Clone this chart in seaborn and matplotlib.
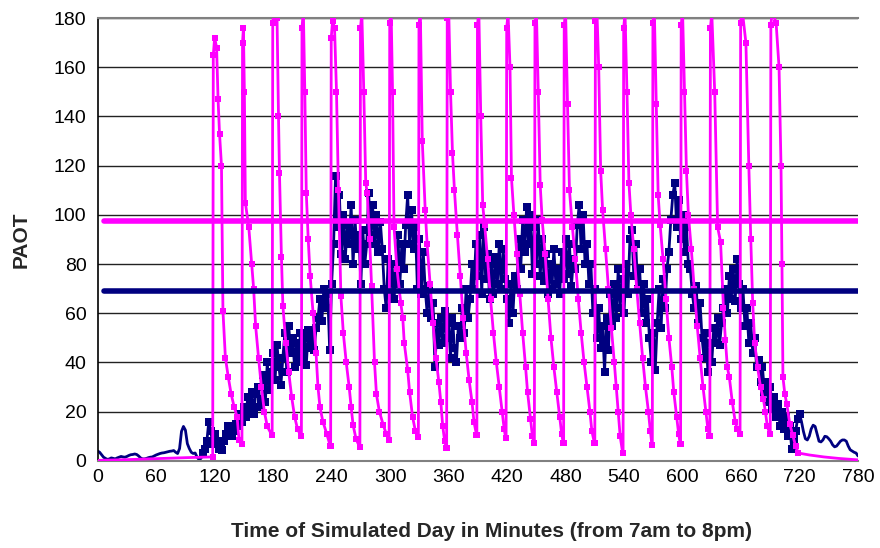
import numpy as np
import pandas as pd
import seaborn as sns
import matplotlib
matplotlib.use("Agg")
import matplotlib.pyplot as plt

# ---------------- data ----------------
navy_t = list(range(0, 781, 2))
navy_v = [
    4, 3.5, 2.5, 1.5, 1, 0.6, 0.8, 1.2, 1, 0.8, 1.2, 1.5, 1.8, 1.6, 1.5, 1.8, 2.2, 2.5, 2.6, 2.8,
    2.6, 2, 1.2, 0.8, 0.8, 1, 1.3, 1.5, 1.6, 2, 2.4, 2.7, 3, 3.2, 3.3, 3.5, 3.7, 3.9, 4, 4.2,
    3.5, 3, 5, 12, 14, 12.5, 7, 5, 3.5, 3, 3.2,
    1.5, 0.5, 1, 3, 5, 8, 16, 12, 7, 11, 8, 5, 6, 4.5, 8, 11, 14, 13, 10, 12, 15, 14, 19, 16, 22,
    18, 26, 21, 28, 19, 27, 30, 22, 25, 35, 24, 40, 29, 36, 44, 33, 47, 38, 31, 42, 52, 36, 55, 44, 50,
    38, 48, 40, 52, 42, 50, 39, 53, 46, 52, 45, 54, 58, 66, 57, 70, 62, 68, 45, 72, 88, 116, 95, 108, 84,
    100, 82, 96, 88, 104, 80, 98, 86, 92, 72, 94, 80, 88, 109, 92, 104, 88, 100, 85, 97, 86, 70, 62, 82, 68,
    80, 66, 75, 92, 72, 88, 78, 96, 108, 88, 102, 86, 95, 70, 90, 68, 85, 70, 60, 71, 58, 64, 38, 56, 47,
    58, 48, 61, 50, 56, 42, 58, 46, 40, 55, 50, 62, 52, 70, 58, 66, 80, 70, 88, 75, 92, 68, 95, 74, 84,
    66, 80, 68, 83, 72, 88, 70, 86, 74, 66, 56, 72, 60, 75, 70, 90, 78, 98, 85, 103, 88, 100, 76, 95, 80,
    98, 75, 90, 73, 84, 68, 80, 70, 86, 72, 78, 68, 85, 74, 90, 76, 88, 71, 82, 78, 96, 104, 86, 100, 80,
    88, 72, 80, 60, 70, 50, 62, 46, 55, 36, 58, 45, 68, 55, 72, 58, 78, 62, 74, 60, 80, 68, 90, 94, 75,
    88, 70, 78, 60, 72, 56, 66, 50, 40, 52, 37, 56, 70, 54, 74, 62, 78, 85, 98, 108, 113, 95, 106, 90, 100,
    85, 95, 80, 78, 68, 62, 71, 56, 64, 50, 42, 52, 36, 48, 40, 54, 48, 58, 47, 56, 62, 70, 60, 75, 66,
    78, 65, 82, 72, 62, 70, 55, 62, 48, 56, 44, 50, 38, 41, 32, 38, 28, 32, 24, 30, 21, 26, 18, 23, 14,
    20, 13, 18, 10, 14, 5, 9, 12, 17, 19, 16, 12, 9, 8.5, 10, 13, 14.5, 14, 11, 8,
    7.7, 8.5, 10, 9.8, 9, 8, 6.5, 5.7, 6, 7, 8, 8.5, 8.5, 8, 6, 4.5, 4, 3.5, 3.2, 2,
]

magenta_base_t = [0, 30, 60, 90, 117.6]
magenta_base_v = [0.2, 0.5, 0.9, 1.3, 1.6]

magenta_t = [
    118, 118.6, 120, 122, 123.5, 125, 127, 128.5, 131, 134, 137, 140, 143, 145, 147.6,
    148, 148.6, 149.5, 150.5, 151.5, 155, 158, 160, 162, 165, 168, 171, 174, 178.6,
    179, 179.6, 181, 184, 185.5, 186.5, 188.5, 190, 193, 196, 199, 202, 205, 208.6,
    209, 209.6, 211, 212.5, 214, 216, 218, 221, 224, 226, 228, 231, 235, 238.6,
    239, 239.6, 241, 243, 245, 247, 249.5, 252, 255, 258, 260, 262, 265, 268.6,
    269, 269.6, 271, 273, 275, 276.5, 279, 281, 284, 286, 289, 293, 296, 298.6,
    299, 299.6, 301, 302.5, 304, 307, 311, 313, 314.5, 318, 320, 323, 326, 328.6,
    329, 329.6, 331, 333, 336, 338, 341, 344, 347, 350, 352, 354, 356, 357.6,
    358, 358.6, 360, 362, 364, 366, 369, 372, 375, 378, 381, 384, 386, 388.6,
    389, 389.6, 391, 393, 395, 397, 400, 403, 406, 409, 412, 415, 417, 418.6,
    419, 419.6, 421, 423, 424.5, 427, 430, 433, 436, 439, 441, 444, 446, 447.6,
    448, 448.6, 450, 452, 454, 456, 459, 462, 465, 468, 471, 474, 476, 477.6,
    478, 478.6, 480, 482, 484, 487, 490, 493, 496, 499, 502, 505, 507, 509.6,
    510, 510.6, 512, 514, 516, 518, 521, 524, 527, 530, 532, 534, 536, 538.6,
    539, 539.6, 541, 543, 545, 547, 550, 553, 556, 559, 562, 565, 567, 568.6,
    569, 569.6, 571, 573, 575, 577, 580, 583, 586, 589, 591, 594, 596, 597.6,
    598, 598.6, 600, 602, 604, 606, 609, 612, 615, 618, 621, 624, 626, 627.6,
    628, 628.6, 630, 633, 636, 639, 642, 644, 646, 648, 651, 654, 656, 658.6,
    659, 659.6, 661, 665, 668, 670, 672, 674, 677, 680, 683, 685, 687, 689.6,
    690, 690.6, 692, 696, 699, 701, 702, 703, 705, 707, 710, 713, 716, 718.6,
]
magenta_v = [
    1.6, 165, 172, 168, 147, 133, 120, 61, 42, 34, 27, 22, 18, 8.5, 7,
    7, 170, 176, 150, 105, 95, 80, 70, 55, 42, 30, 20, 14, 10.5,
    10.5, 178, 184, 180, 140, 117, 83, 63, 48, 36, 26, 18, 13, 10,
    10, 176, 183, 150, 109, 90, 75, 60, 44, 30, 22, 16, 11, 6,
    6, 172, 179, 176, 150, 110, 67, 52, 40, 30, 22, 14.6, 9, 5.7,
    5.7, 176, 182, 150, 113, 109, 90, 71, 40, 27, 20, 14.6, 11, 8.5,
    8.5, 178, 184, 150, 95, 78, 64, 58, 48, 37, 28, 18, 12, 9.8,
    9.8, 177, 183, 130, 102, 88, 72, 56, 42, 32, 24, 14, 8, 5.3,
    5.3, 180, 185, 150, 125, 110, 92, 75, 58, 44, 33, 24, 16, 10.6,
    10.6, 177, 183, 140, 104, 96, 82, 66, 52, 40, 30, 20, 13, 9.3,
    9.3, 176, 182, 160, 115, 100, 84, 68, 52, 38, 28, 17, 10, 7.3,
    7.3, 178, 184, 150, 112, 98, 84, 66, 50, 38, 28, 18, 11, 7.3,
    7.3, 177, 183, 145, 110, 95, 82, 66, 52, 40, 30, 20, 12, 7.3,
    7.3, 179, 185, 160, 118, 102, 86, 70, 54, 40, 30, 20, 10, 3.2,
    3.2, 176, 182, 150, 113, 100, 86, 70, 56, 42, 30, 20, 12, 6.5,
    6.5, 178, 184, 145, 108, 96, 82, 66, 50, 38, 28, 18, 11, 7,
    7, 177, 183, 150, 118, 100, 86, 70, 55, 42, 30, 20, 13, 10,
    10, 176, 182, 150, 95, 89, 62, 49, 38, 34, 24, 16, 13, 11,
    11, 178, 184, 170, 120, 90, 64, 48, 38, 30, 25, 20, 14, 11,
    11, 177, 183, 178, 160, 120, 80, 34, 27, 23, 15, 10.5, 6, 3.2,
]
magenta_tail_t = [718.6, 730, 745, 760, 780]
magenta_tail_v = [3.2, 2.4, 1.6, 1.0, 0.4]

limit_x = [6, 780]
limit_magenta = [97.5, 97.5]
limit_navy = [69, 69]

x_ticks = list(range(0, 781, 60))
y_ticks = list(range(0, 181, 20))

NAVY = "#000080"
MAGENTA = "#FF00FF"

# ---------------- figure ----------------
sns.set_style("white")
plt.rcParams["font.family"] = ["Liberation Sans", "DejaVu Sans"]

fig = plt.figure(figsize=(8.8, 5.48), dpi=100)
ax = fig.add_axes([0.111, 0.159, 0.864, 0.808])

navy_df = pd.DataFrame({"t": navy_t, "v": navy_v})
sns.lineplot(data=navy_df, x="t", y="v", sort=False, estimator=None, color=NAVY,
             lw=2.0, ax=ax, zorder=2)
navy_mk = navy_df[(navy_df.t >= 108) & (navy_df.t <= 720)]
sns.lineplot(data=navy_mk, x="t", y="v", sort=False, estimator=None, color=NAVY,
             lw=0, marker="s", markersize=5.5, markeredgewidth=0, ax=ax, zorder=2)

base_df = pd.DataFrame({"t": magenta_base_t + magenta_t[:1], "v": magenta_base_v + magenta_v[:1]})
sns.lineplot(data=base_df, x="t", y="v", sort=False, estimator=None, color=MAGENTA,
             lw=2.0, ax=ax, zorder=3)
mag_df = pd.DataFrame({"t": magenta_t, "v": magenta_v})
sns.lineplot(data=mag_df, x="t", y="v", sort=False, estimator=None, color=MAGENTA,
             lw=2.0, marker="s", markersize=3.8, markeredgewidth=0, ax=ax, zorder=3)
tail_df = pd.DataFrame({"t": magenta_tail_t, "v": magenta_tail_v})
sns.lineplot(data=tail_df, x="t", y="v", sort=False, estimator=None, color=MAGENTA,
             lw=2.0, ax=ax, zorder=3)

lim_df = pd.DataFrame({"t": limit_x * 2, "v": limit_magenta + limit_navy,
                       "s": ["m", "m", "n", "n"]})
sns.lineplot(data=lim_df[lim_df.s == "m"], x="t", y="v", estimator=None, color=MAGENTA,
             lw=4, ax=ax, zorder=4)
sns.lineplot(data=lim_df[lim_df.s == "n"], x="t", y="v", estimator=None, color=NAVY,
             lw=4, ax=ax, zorder=4)

ax.set_xlim(0, 780)
ax.set_ylim(0, 180)
ax.set_xticks(x_ticks)
ax.set_yticks(y_ticks)
ax.tick_params(axis="both", labelsize=14, direction="out", length=5, width=1,
               colors="black")
ax.tick_params(axis="x", color="#808080", pad=1)
ax.tick_params(axis="y", pad=3)
ax.yaxis.grid(True, color="#222222", lw=1.0)
ax.xaxis.grid(False)
ax.set_axisbelow(True)
ax.spines["right"].set_visible(False)
ax.spines["top"].set_color("#808080")
ax.spines["top"].set_linewidth(1.5)
ax.spines["bottom"].set_color("#808080")
ax.spines["bottom"].set_linewidth(1.5)
ax.spines["left"].set_color("black")
ax.spines["left"].set_linewidth(1.2)

ax.set_xlabel("Time of Simulated Day in Minutes (from 7am to 8pm)", fontsize=15,
              fontweight="bold")
ax.set_ylabel("PAOT", fontsize=15, fontweight="bold")
ax.xaxis.set_label_coords(0.518, -0.138)
ax.yaxis.set_label_coords(-0.088, 0.5)

fig.savefig("out.png", dpi=100)
